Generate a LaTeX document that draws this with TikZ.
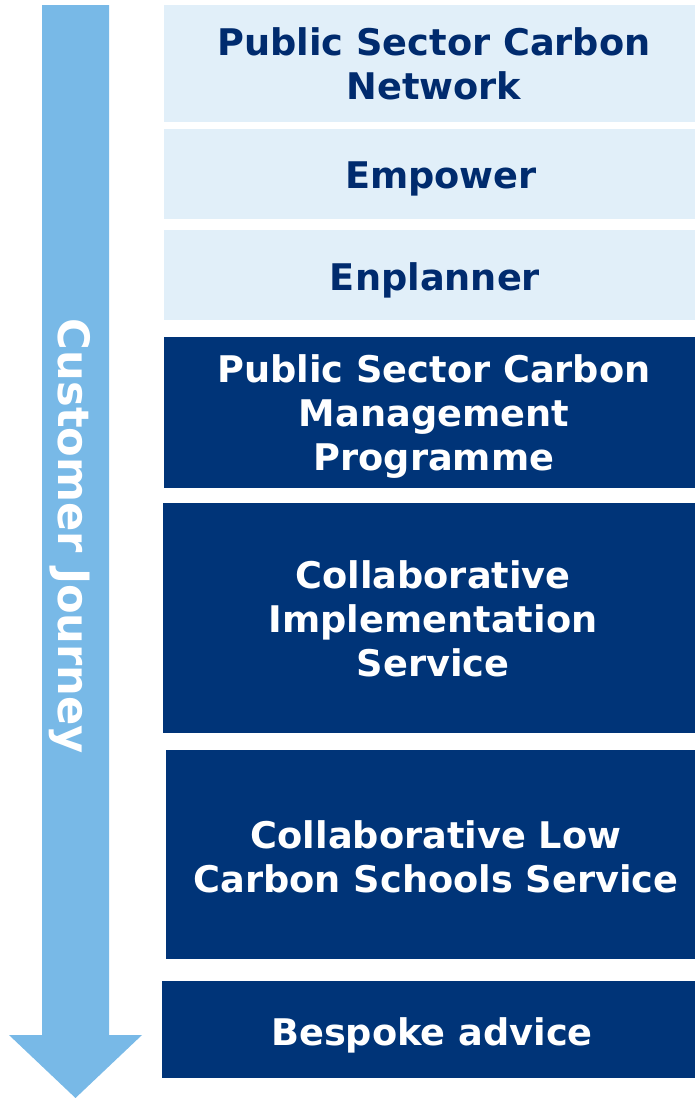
\documentclass[tikz,border=0pt]{standalone}
\usepackage{fontspec}
\setmainfont{DejaVu Sans}
\definecolor{arrowblue}{HTML}{78B9E7}
\definecolor{lightbox}{HTML}{E1EFF9}
\definecolor{darkbox}{HTML}{003478}
\definecolor{darktext}{HTML}{002B6E}
\begin{document}
\begin{tikzpicture}[x=1pt,y=-1pt,
  lbl/.style={font=\bfseries\fontsize{36.7}{44}\selectfont, align=center, inner sep=0pt},
  biglbl/.style={font=\bfseries\fontsize{43.2}{50}\selectfont, inner sep=0pt},
  lightstep/.style={fill=lightbox, draw=none},
  darkstep/.style={fill=darkbox, draw=none}]
\useasboundingbox (0,0) rectangle (695,1098);
% arrow
\fill[arrowblue] (42,5) -- (109,5) -- (109,1035) -- (142,1035) -- (75.5,1098) -- (9,1035) -- (42,1035) -- cycle;
\node[biglbl, text=white, rotate=-90, anchor=base] (journey) at (58,536.5) {Customer Journey};
% boxes
\fill[lightstep] (164,5) rectangle (695,122);
\fill[lightstep] (164,129) rectangle (695,219);
\fill[lightstep] (164,230) rectangle (695,320);
\fill[darkstep] (164,337) rectangle (695,488);
\fill[darkstep] (163,503) rectangle (695,733);
\fill[darkstep] (166,750) rectangle (695,959);
\fill[darkstep] (162,981) rectangle (695,1078);
% labels
\node[lbl, text=darktext] (n1) at (434,64) {Public Sector Carbon\\Network};
\node[lbl, text=darktext] (n2) at (441,179) {Empower};
\node[lbl, text=darktext] (n3) at (435,280) {Enplanner};
\node[lbl, text=white] (n4) at (434,417) {Public Sector Carbon\\Management\\Programme};
\node[lbl, text=white] (n5) at (433,619) {Collaborative\\Implementation\\Service};
\node[lbl, text=white] (n6) at (436,857) {Collaborative Low\\Carbon Schools Service};
\node[lbl, text=white] (n7) at (432,1035) {Bespoke advice};
\end{tikzpicture}
\end{document}
